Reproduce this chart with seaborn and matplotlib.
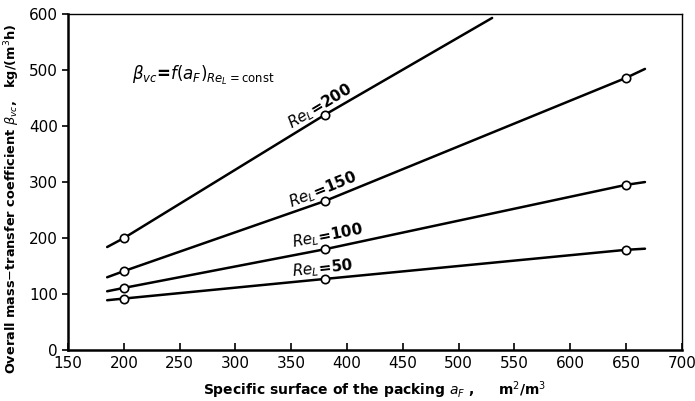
"""
Overall mass-transfer coefficient vs specific surface of the packing
"""

import numpy as np
import pandas as pd
import matplotlib
matplotlib.use("Agg")
import matplotlib.pyplot as plt
import seaborn as sns

# series labels
re_values = [200, 150, 100, 50]

# line traces
line_x_200 = [185, 200, 380, 530]
line_y_200 = [184, 200, 420, 593]
line_x_150 = [185, 200, 380, 650, 667]
line_y_150 = [130, 141, 266, 486, 502]
line_x_100 = [185, 200, 380, 650, 667]
line_y_100 = [105, 111, 180, 295, 300]
line_x_50 = [185, 200, 380, 650, 667]
line_y_50 = [89, 92, 127, 179, 181]

# measured points (open circles)
pts_x_200 = [200, 380]
pts_y_200 = [200, 420]
pts_x_150 = [200, 380, 650]
pts_y_150 = [141, 266, 486]
pts_x_100 = [200, 380, 650]
pts_y_100 = [111, 180, 295]
pts_x_50 = [200, 380, 650]
pts_y_50 = [92, 127, 179]

xticks = list(range(150, 701, 50))
yticks = list(range(0, 601, 100))

# build long tables
lines = pd.concat([
    pd.DataFrame({'a': line_x_200, 'beta': line_y_200, 're': 200}),
    pd.DataFrame({'a': line_x_150, 'beta': line_y_150, 're': 150}),
    pd.DataFrame({'a': line_x_100, 'beta': line_y_100, 're': 100}),
    pd.DataFrame({'a': line_x_50, 'beta': line_y_50, 're': 50}),
])
pts = pd.concat([
    pd.DataFrame({'a': pts_x_200, 'beta': pts_y_200, 're': 200}),
    pd.DataFrame({'a': pts_x_150, 'beta': pts_y_150, 're': 150}),
    pd.DataFrame({'a': pts_x_100, 'beta': pts_y_100, 're': 100}),
    pd.DataFrame({'a': pts_x_50, 'beta': pts_y_50, 're': 50}),
])

sns.set_style("ticks")
plt.rcParams['font.family'] = ['DejaVu Sans']
for key in ['text.color', 'axes.labelcolor', 'xtick.color', 'ytick.color', 'axes.edgecolor']:
    plt.rcParams[key] = 'black'

fig = plt.figure(figsize=(6.95, 4.01), dpi=100)
ax = fig.add_axes([0.098, 0.127, 0.883, 0.838])

sns.lineplot(data=lines, x='a', y='beta', units='re', estimator=None, sort=False,
             color='black', linewidth=1.8, ax=ax)
sns.scatterplot(data=pts, x='a', y='beta', color='white', edgecolor='black',
                linewidth=1.2, s=36, zorder=3, ax=ax)

ax.set_xlim(150, 700)
ax.set_ylim(0, 600)
ax.set_xticks(xticks)
ax.set_yticks(yticks)
ax.tick_params(axis='x', direction='in', length=5, width=1.2, labelsize=11, pad=4)
ax.tick_params(axis='y', direction='out', length=4, width=1.2, labelsize=11)

for side in ['left', 'bottom']:
    ax.spines[side].set_linewidth(1.8)
for side in ['top', 'right']:
    ax.spines[side].set_linewidth(1.0)

ax.set_xlabel(r'Specific surface of the packing $a_F$ ,     m$^2$/m$^3$',
              fontsize=10, fontweight='bold', labelpad=6)
ax.set_ylabel(r'Overall mass$-$transfer coefficient $\beta_{vc}$,   kg/(m$^3$h)',
              fontsize=9.3, fontweight='bold')
ax.yaxis.set_label_coords(-0.075, 0.45)

# curve labels
label_pos = {200: (376, 436, 31), 150: (378, 286, 22), 100: (383, 203, 11), 50: (378, 146, 6)}
for re in re_values:
    x, y, rot = label_pos[re]
    ax.text(x, y, r'$Re_L$=' + str(re), fontsize=11, fontweight='bold',
            rotation=rot, ha='center', va='center', rotation_mode='anchor')

ax.text(207, 491, r'$\beta_{vc}$=$f(a_F)_{Re_L=\mathrm{const}}$', fontsize=12,
        fontweight='bold', ha='left', va='center')

fig.savefig('out.png', dpi=100)
